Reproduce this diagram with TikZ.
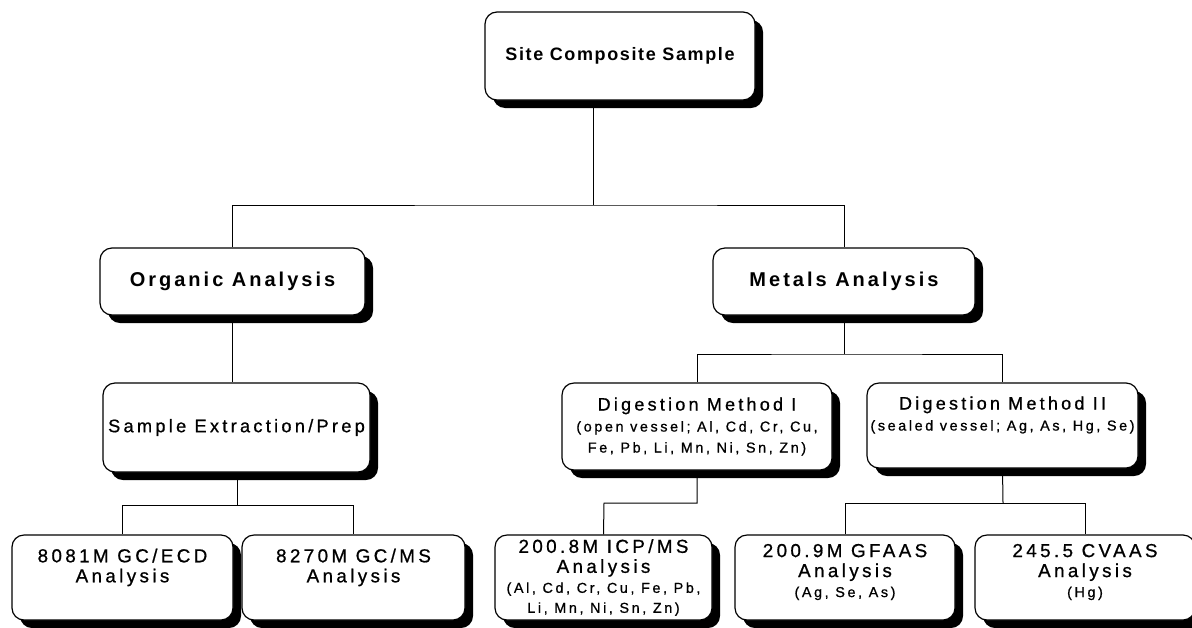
\documentclass[tikz,border=0pt]{standalone}
\usepackage{fontspec}
\setmainfont{Liberation Sans}[LetterSpace=18, FakeBold=0.8]
\newfontfamily\headfont{Liberation Sans}[LetterSpace=15]
\usepackage{tikz}
\usetikzlibrary{shadows, backgrounds}

\newcommand{\smalltxt}[1]{{\fontsize{7.2}{10}\selectfont #1}}

\begin{document}
\begin{tikzpicture}[
  x=0.5pt, y=-0.5pt,
  box/.style={rectangle, draw, rounded corners=6pt, line width=0.6pt, fill=white, inner sep=0pt, align=center,
    drop shadow={shadow xshift=4pt, shadow yshift=-4pt, fill=black, opacity=1}},
  head/.style={box, font=\fontsize{10}{12}\headfont\bfseries},
  method/.style={box, font=\fontsize{9}{10.5}\selectfont},
  test/.style={box, font=\fontsize{9.4}{10}\selectfont},
  link/.style={line width=0.5pt}
]
  \useasboundingbox (0,0) rectangle (1192,627);

  % top level
  \node[head, minimum width=135pt, minimum height=44pt, font=\fontsize{9}{11}\headfont\bfseries\addfontfeatures{LetterSpace=9}] (site) at (620,56) {Site Composite Sample};
  \node[head, minimum width=132.5pt, minimum height=33.5pt] (organic) at (232.5,281.5) {Organic Analysis};
  \node[head, minimum width=131pt, minimum height=33.5pt] (metals) at (844,281.5) {Metals Analysis};

  % preparation
  \node[method, minimum width=133.5pt, minimum height=44.5pt, font=\fontsize{9.1}{10.5}\selectfont] (sample) at (236.5,427.5) {Sample Extraction/Prep};
  \node[method, minimum width=135pt, minimum height=43.5pt] (digone) at (697,426.5)
    {Digestion Method I\\\smalltxt{(open vessel; Al, Cd, Cr, Cu,}\\\smalltxt{Fe, Pb, Li, Mn, Ni, Sn, Zn)}};
  \node[method, minimum width=135.5pt, minimum height=42.5pt, text depth=12pt] (digtwo) at (1002.5,425.5)
    {Digestion Method II\\\smalltxt{(sealed vessel; Ag, As, Hg, Se)}};

  % analyses
  \node[test, minimum width=110.5pt, minimum height=42.5pt, text depth=12pt] (ecd) at (122.5,577.5) {8081M GC/ECD\\Analysis};
  \node[test, minimum width=111.5pt, minimum height=42.5pt, text depth=12pt] (gcms) at (353.5,577.5) {8270M GC/MS\\Analysis};
  \node[test, minimum width=108.5pt, minimum height=42.5pt] (icpms) at (603.5,577.5)
    {200.8M ICP/MS\\Analysis\\\smalltxt{(Al, Cd, Cr, Cu, Fe, Pb,}\\\smalltxt{Li, Mn, Ni, Sn, Zn)}};
  \node[test, minimum width=110pt, minimum height=42.5pt, text depth=7pt] (gfaas) at (845,577.5)
    {200.9M GFAAS\\Analysis\\\smalltxt{(Ag, Se, As)}};
  \node[test, minimum width=110pt, minimum height=42.5pt, text depth=7pt] (cvaas) at (1085,577.5)
    {245.5 CVAAS\\Analysis\\\smalltxt{(Hg)}};

  % branch points
  \coordinate (busa) at (593,205);
  \coordinate (busb) at (237,505);
  \coordinate (busc) at (844,354);
  \coordinate (busd) at (604,503);
  \coordinate (buse) at (1003,503);

  \begin{pgfonlayer}{background}
    \fill[white] (0,0) rectangle (1192,627);
    \draw[link] (site.south -| busa) -- (busa);
    \draw[link] (organic.north) |- (busa) -| (metals.north);
    \draw[link] (organic.south) -- (organic.south |- sample.north);
    \draw[link] (sample.south -| busb) -- (busb);
    \draw[link] (ecd.north) |- (busb) -| (gcms.north);
    \draw[link] (metals.south) -- (busc);
    \draw[link] (digone.north) |- (busc) -| (digtwo.north);
    \draw[link] (digone.south) |- (busd) -- (icpms.north);
    \draw[link] (digtwo.south) -- (buse);
    \draw[link] (gfaas.north) |- (buse) -| (cvaas.north);
  \end{pgfonlayer}
\end{tikzpicture}
\end{document}
